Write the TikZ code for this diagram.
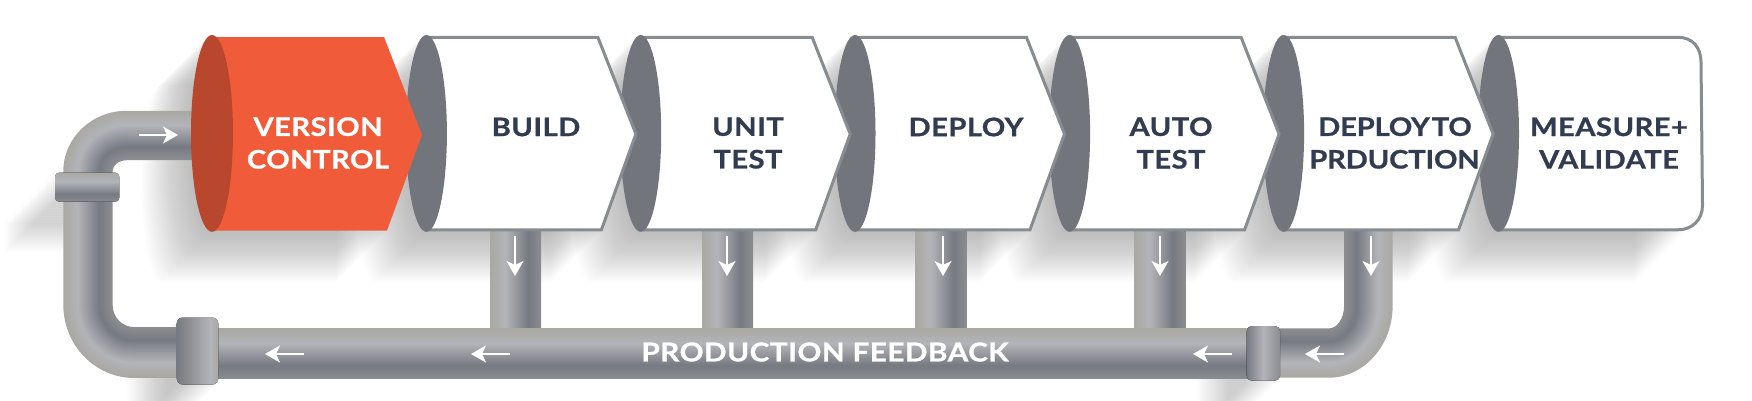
\documentclass[tikz,border=0pt]{standalone}
\usepackage{fontspec}
\newfontfamily\stagefont[LetterSpace=2,FakeStretch=1.14,BoldFeatures={FakeBold=0.9}]{Lato}
\usetikzlibrary{arrows.meta}
\definecolor{stagerim}{HTML}{878C91}
\definecolor{stagecap}{HTML}{72767C}
\definecolor{stageink}{HTML}{323C50}
\definecolor{sourcefill}{HTML}{F05C39}
\definecolor{sourcecap}{HTML}{B8472D}
\definecolor{pipeedge}{HTML}{A9A8A3}
\definecolor{pipelight}{HTML}{B3B4B9}
\definecolor{pipedark}{HTML}{767A81}
\definecolor{pipeinner}{HTML}{8A8C90}
\pgfdeclarehorizontalshading{pipeacross}{100bp}{color(0bp)=(pipeedge); color(25bp)=(pipeedge); color(40bp)=(pipelight); color(62bp)=(pipedark); color(75bp)=(pipeinner); color(100bp)=(pipeinner)}
\pgfdeclareverticalshading{pipedown}{100bp}{color(0bp)=(pipeinner); color(25bp)=(pipeinner); color(38bp)=(pipedark); color(60bp)=(pipelight); color(75bp)=(pipeedge); color(100bp)=(pipeedge)}
\pgfdeclarehorizontalshading{collarturned}{100bp}{color(0bp)=(pipedark); color(25bp)=(pipedark); color(38bp)=(pipeinner); color(65bp)=(pipelight); color(75bp)=(pipeedge); color(100bp)=(pipeedge)}
\pgfdeclarehorizontalshading{collarmid}{100bp}{color(0bp)=(pipedark); color(25bp)=(pipedark); color(50bp)=(pipelight); color(75bp)=(pipeinner); color(100bp)=(pipeinner)}
\tikzstyle{stagebox} = [draw=stagerim, line width=3pt, fill=white, line join=miter]
\tikzstyle{sourcebox} = [fill=sourcefill]
\tikzstyle{stagelabel} = [text=stageink, align=center, inner sep=0pt, font=\stagefont\bfseries\fontsize{25.5}{32.6}\selectfont]
\tikzstyle{pipelabel} = [text=white, inner sep=0pt, font=\stagefont\bfseries\fontsize{26}{32}\selectfont]
\tikzstyle{shadowstep} = [fill=black, opacity=0.0105]
\tikzstyle{flow} = [draw=white, line width=1.7pt, -{Stealth[length=15pt,width=17pt,inset=4pt]}]
% band colour across a bent pipe, 0 on the outside of the bend, 1 on the inside
\newcommand{\setband}[1]{%
  \ifdim #1pt<0.3pt
    \pgfmathsetmacro\mixval{100*(0.3-#1)/0.3}\colorlet{bandcol}{pipeedge!\mixval!pipelight}%
  \else\ifdim #1pt<0.75pt
    \pgfmathsetmacro\mixval{100*(0.75-#1)/0.45}\colorlet{bandcol}{pipelight!\mixval!pipedark}%
  \else
    \pgfmathsetmacro\mixval{100*(1-#1)/0.25}\colorlet{bandcol}{pipedark!\mixval!pipeinner}%
  \fi\fi}
\newcommand{\longshadow}[1]{\foreach \d in {2,4,...,50}{\fill[shadowstep,shift={(-\d,\d)}] #1;}}
\newcommand{\stageoutline}[2]{(#1,35) -- (#1+#2,35) -- (#1+#2,232) -- (#1,232) .. controls (#1-11,232) and (#1-20.5,188) .. (#1-20.5,133.5) .. controls (#1-20.5,79) and (#1-11,35) .. (#1,35) -- cycle}
\newcommand{\stageplain}[1]{%
  \draw[stagebox] (#1,37.3) -- (#1+171.5,37.3) -- (#1+209.5,134) -- (#1+175,229.8) -- (#1,229.8) -- cycle;
  \fill[stagecap] (#1,133.4) ellipse [x radius=20.5, y radius=98.4];}

\begin{document}
\begin{tikzpicture}[x=1pt,y=-1pt]
    \useasboundingbox (0,0) rectangle (1752,400);

    % The shadows go first, everything else sits on them
    \foreach \c in {212,426.4,640.7,855,1069.6,1283.6}{\longshadow{\stageoutline{\c}{175}}}
    \longshadow{\stageoutline{1498.5}{186}}
    \longshadow{(55,173) rectangle (119,202)}
    \longshadow{(177,318) rectangle (218,384)}
    \longshadow{(1247,326) rectangle (1280,380)}

    % Straight pipes
    \foreach \x in {515.5,727.7,941,1160}{\fill[shading=pipeacross] (\x-25.5,225) rectangle (\x+25.5,330);}
    \fill[shading=pipedown] (200,328.3) rectangle (1262,378.3);

    % Bent pipes, band by band from the outer side
    \foreach \f in {0,0.025,...,1.001}{
      \setband{\f}
      \pgfmathsetmacro\xo{64.3+47.4*\f}
      \pgfmathsetmacro\yt{111.7+47.6*\f}
      \pgfmathsetmacro\yb{377-49*\f}
      \draw[bandcol, line width=1.9pt] (195,\yt) -- (126.7,\yt)
        .. controls (126.7-0.55*126.7+0.55*\xo,\yt) and (\xo,171-0.55*171+0.55*\yt) .. (\xo,171)
        -- (\xo,305) .. controls (\xo,305+0.55*\yb-0.55*305) and (134-0.55*134+0.55*\xo,\yb) .. (134,\yb)
        -- (190,\yb);
      \pgfmathsetmacro\xr{1391.7-46.7*\f}
      \pgfmathsetmacro\yr{376.7-47.4*\f}
      \draw[bandcol, line width=1.9pt] (\xr,225) -- (\xr,306)
        .. controls (\xr,306+0.55*\yr-0.55*306) and (1329+0.55*\xr-0.55*1329,\yr) .. (1329,\yr)
        -- (1262,\yr);
    }

    % Collars on the pipes
    \fill[shading=pipedown, rounded corners=4pt] (55,172.7) rectangle (119.3,201.7);
    \fill[shading=collarturned, rounded corners=6pt] (176.7,317.5) rectangle (218.3,384.5);
    \fill[shading=collarmid, rounded corners=5pt] (1246.7,326) rectangle (1280,380.7);

    % Stages are laid right to left so each tip falls on the next cap
    \draw[stagebox] (1498.5,37.3) -- (1678,37.3) .. controls (1692,37.3) and (1701,47) .. (1701,62)
      -- (1702.5,205) .. controls (1702.5,220) and (1692,229.8) .. (1678,229.8) -- (1498.5,229.8) -- cycle;
    \fill[stagecap] (1498.5,133.4) ellipse [x radius=20.5, y radius=98.4];
    \foreach \c in {1283.6,1069.6,855,640.7,426.4}{\stageplain{\c}}
    \fill[sourcebox] (212,37) -- (384,37) -- (422,135) -- (387,230.5) -- (212,230.5) -- cycle;
    \fill[sourcecap] (212,133.4) ellipse [x radius=21, y radius=98.4];

    % Labels of the stages
    \node [stagelabel, text=white] (version) at (318,143) {VERSION\\CONTROL};
    \node [stagelabel] (build) at (536,127) {BUILD};
    \node [stagelabel] (unit) at (748,143) {UNIT\\TEST};
    \node [stagelabel] (deploy) at (966,127) {DEPLOY};
    \node [stagelabel] (auto) at (1171,143) {AUTO\\TEST};
    \node [stagelabel, font=\stagefont\bfseries\addfontfeatures{LetterSpace=-0.6}\fontsize{25.5}{32.6}\selectfont] (deployto) at (1395,143) {DEPLOY\kern2pt TO\\\kern-1pt PRDUCTION};
    \node [stagelabel] (measure) at (1609,143) {MEASURE+\\VALIDATE};
    \node [pipelabel] (feedback) at (825,352) {PRODUCTION FEEDBACK};

    % Arrows inside the pipes
    \foreach \name/\x in {dropa/515,dropb/727,dropc/943,dropd/1160,drope/1371}{
      \coordinate (\name from) at (\x,236);
      \coordinate (\name to) at (\x,276);
      \draw [flow] (\name from) -- (\name to);
    }
    \foreach \name/\x in {backa/510,backb/304,backc/1232,backd/1344}{
      \coordinate (\name from) at (\x,354);
      \coordinate (\name to) at (\x-39,354);
      \draw [flow] (\name from) -- (\name to);
    }
    \coordinate (infeed from) at (139,135);
    \coordinate (infeed to) at (178,135);
    \draw [flow] (infeed from) -- (infeed to);
\end{tikzpicture}
\end{document}
